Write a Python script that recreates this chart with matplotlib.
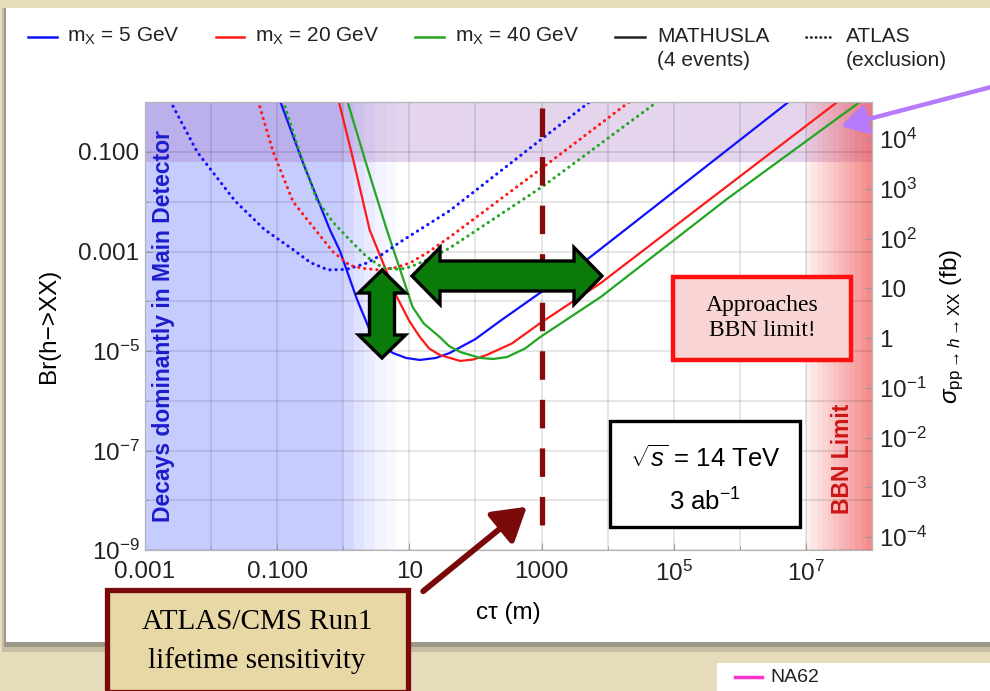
import numpy as np
import matplotlib.pyplot as plt
from matplotlib.patches import Rectangle, Polygon, FancyArrowPatch
from matplotlib.ticker import FixedLocator, FixedFormatter, NullFormatter

plt.rcParams['font.family'] = ['Liberation Sans', 'DejaVu Sans']
plt.rcParams['mathtext.fontset'] = 'custom'
plt.rcParams['mathtext.rm'] = 'Liberation Sans'
plt.rcParams['mathtext.it'] = 'Liberation Sans:italic'
plt.rcParams['mathtext.bf'] = 'Liberation Sans:bold'

W, H = 990, 691

# curves: log10(c tau / m), log10(Br(h->XX))
# MATHUSLA (4 events), solid
m5_x = [-0.96, -0.60, -0.20, -0.05, 0.21, 0.40, 0.55, 0.75, 0.95, 1.16, 1.40, 1.61, 2.00, 2.37, 2.99, 3.70, 5.00, 6.77]
m5_y = [0.04, -1.25, -2.57, -2.99, -3.97, -4.58, -4.85, -5.04, -5.14, -5.18, -5.14, -5.04, -4.76, -4.40, -3.82, -3.15, -1.80, 0.04]
m20_x = [-0.07, 0.15, 0.40, 0.81, 1.00, 1.16, 1.30, 1.46, 1.77, 1.97, 2.17, 2.55, 2.98, 3.90, 5.50, 7.47]
m20_y = [0.03, -1.15, -2.57, -3.91, -4.40, -4.72, -4.95, -5.08, -5.20, -5.17, -5.08, -4.85, -4.44, -3.63, -2.00, 0.0]
m40_x = [0.06, 0.35, 0.66, 1.05, 1.22, 1.46, 1.60, 1.77, 2.07, 2.27, 2.48, 2.75, 2.98, 3.90, 5.80, 7.81]
m40_y = [0.03, -1.25, -2.57, -4.12, -4.45, -4.72, -4.90, -5.02, -5.14, -5.16, -5.12, -4.95, -4.72, -3.91, -1.95, 0.0]

# ATLAS exclusion, dotted
a5_x = [-2.62, -2.21, -1.64, -1.20, -0.73, -0.50, -0.23, 0.05, 0.36, 0.60, 0.86, 1.61, 3.02, 3.72]
a5_y = [0.03, -1.00, -1.98, -2.55, -2.99, -3.22, -3.37, -3.36, -3.23, -3.05, -2.81, -2.18, -0.72, 0.0]
a20_x = [-1.29, -1.06, -0.76, -0.16, 0.10, 0.30, 0.55, 0.80, 1.01, 1.30, 1.61, 3.02, 4.32]
a20_y = [0.03, -1.00, -2.00, -3.00, -3.28, -3.34, -3.37, -3.32, -3.23, -3.00, -2.71, -1.31, 0.0]
a40_x = [-0.91, -0.65, -0.40, -0.15, 0.10, 0.35, 0.60, 0.85, 1.01, 1.30, 1.61, 3.02, 4.74]
a40_y = [0.03, -1.05, -1.96, -2.42, -2.77, -3.10, -3.33, -3.36, -3.31, -3.15, -2.93, -1.69, 0.0]

curves = [
    (m5_x, m5_y, '#1010ff', '-'), (m20_x, m20_y, '#ff1a1a', '-'), (m40_x, m40_y, '#22a622', '-'),
    (a5_x, a5_y, '#1010ff', ':'), (a20_x, a20_y, '#ff1a1a', ':'), (a40_x, a40_y, '#22a622', ':'),
]

legend_labels = ['m$_{\\mathrm{X}}$ = 5 GeV', 'm$_{\\mathrm{X}}$ = 20 GeV', 'm$_{\\mathrm{X}}$ = 40 GeV']
legend_colors = ['#1010ff', '#ff1a1a', '#22a622']

main_detector_max = 1.0        # m, solid blue region ends here
bbn_min, bbn_max = 1e7, 1e8    # m
purple_band_min = 10 ** -1.2   # Br
run1_ctau = 1000.0             # m
sigma_h = 10 ** 4.74           # fb, Br -> sigma(pp->h->XX)

xticks = [1e-3, 1e-1, 1e1, 1e3, 1e5, 1e7]
xticklabels = ['0.001', '0.100', '10', '1000', '$\\mathregular{10^{5}}$', '$\\mathregular{10^{7}}$']
yticks = [1e-9, 1e-7, 1e-5, 1e-3, 1e-1]
yticklabels = ['$\\mathregular{10^{-9}}$', '$\\mathregular{10^{-7}}$', '$\\mathregular{10^{-5}}$', '0.001', '0.100']
rticks = [1e-4, 1e-3, 1e-2, 1e-1, 1, 10, 1e2, 1e3, 1e4]
rticklabels = ['$\\mathregular{10^{-4}}$', '$\\mathregular{10^{-3}}$', '$\\mathregular{10^{-2}}$',
               '$\\mathregular{10^{-1}}$', '1', '10', '$\\mathregular{10^{2}}$',
               '$\\mathregular{10^{3}}$', '$\\mathregular{10^{4}}$']


def fx(x):
    return x / W


def fy(y):
    return 1 - y / H


def pts(p):
    return [(fx(a), fy(b)) for a, b in p]


def double_arrow(x0, y0, x1, y1, shaft, head, hlen):
    p0, p1 = np.array([x0, y0], float), np.array([x1, y1], float)
    u = (p1 - p0) / np.hypot(*(p1 - p0))
    n = np.array([-u[1], u[0]])
    poly = [p0, p0 + u * hlen + n * head / 2, p0 + u * hlen + n * shaft / 2,
            p1 - u * hlen + n * shaft / 2, p1 - u * hlen + n * head / 2, p1,
            p1 - u * hlen - n * head / 2, p1 - u * hlen - n * shaft / 2,
            p0 + u * hlen - n * shaft / 2, p0 + u * hlen - n * head / 2]
    return Polygon(pts(poly), closed=True, transform=fig.transFigure,
                   facecolor='#0a7a0a', edgecolor='black', lw=2.4, joinstyle='miter', zorder=5)


fig = plt.figure(figsize=(W / 100, H / 100), dpi=100)
fig.patch.set_facecolor('#e6dcbb')

# slide panel with shadow
fig.add_artist(Rectangle((fx(2), fy(652)), fx(990), 644 / H, transform=fig.transFigure,
                         facecolor='#8a877a', edgecolor='none', alpha=0.35, zorder=-3))
fig.add_artist(Rectangle((fx(4), fy(647)), fx(990), 639 / H, transform=fig.transFigure,
                         facecolor='#77746a', edgecolor='none', alpha=0.5, zorder=-3))
fig.add_artist(Rectangle((fx(6), fy(642)), fx(990), 634 / H, transform=fig.transFigure,
                         facecolor='white', edgecolor='none', zorder=-2))

ax = fig.add_axes([fx(145), fy(550), (872 - 145) / W, (550 - 102.25) / H])
ax.set_xscale('log')
ax.set_yscale('log')
ax.set_xlim(1e-3, 1e8)
ax.set_ylim(1e-9, 1)

# shaded regions
ax.axvspan(1e-3, main_detector_max, color='#3344ff', alpha=0.27, lw=0, zorder=0.5)
for i, a in enumerate([0.21, 0.15, 0.10, 0.06, 0.03]):
    ax.axvspan(main_detector_max * 10 ** (0.16 * i), main_detector_max * 10 ** (0.16 * (i + 1)),
               color='#3344ff', alpha=a, lw=0, zorder=0.5)
ax.axhspan(purple_band_min, 1, color='#9b59b6', alpha=0.25, lw=0, zorder=0.6)
nb = 12
for i in range(nb):
    lo = bbn_min * (bbn_max / bbn_min) ** (i / nb)
    hi = bbn_min * (bbn_max / bbn_min) ** ((i + 1) / nb)
    ax.axvspan(lo, hi, color='#ee3333', alpha=0.04 + 0.52 * (i + 1) / nb, lw=0, zorder=0.7)

ax.xaxis.set_major_locator(FixedLocator(xticks))
ax.xaxis.set_major_formatter(FixedFormatter(xticklabels))
ax.xaxis.set_minor_locator(FixedLocator([1e-2, 1, 1e2, 1e4, 1e6]))
ax.xaxis.set_minor_formatter(NullFormatter())
ax.yaxis.set_major_locator(FixedLocator(yticks))
ax.yaxis.set_major_formatter(FixedFormatter(yticklabels))
ax.yaxis.set_minor_locator(FixedLocator([1e-8, 1e-6, 1e-4, 1e-2]))
ax.yaxis.set_minor_formatter(NullFormatter())
ax.grid(True, which='both', color='black', alpha=0.11, lw=1.3)
ax.tick_params(which='both', direction='in', color='#999999', labelsize=17.5, labelcolor='#222222')
ax.tick_params(which='major', length=5)
ax.tick_params(which='minor', length=3)
ax.tick_params(axis='x', pad=8)
ax.tick_params(axis='y', pad=4)
for s in ax.spines.values():
    s.set_color('#b5b5b5')

for xs, ys, c, ls in curves:
    x = 10.0 ** np.array(xs)
    y = 10.0 ** np.array(ys)
    if ls == '-':
        ax.plot(x, y, color=c, lw=1.6, zorder=3)
    else:
        ax.plot(x, y, color=c, lw=2.2, linestyle=(0, (0.1, 1.9)), dash_capstyle='round', zorder=3)

ax.plot([run1_ctau, run1_ctau], [10 ** -0.12, 10 ** -8.76], color='#850b0b', lw=3.8,
        linestyle=(0, (5.4, 3.8)), zorder=4)

ax.set_xlabel('c\u03c4 (m)', fontsize=17.5, labelpad=11)
ax.set_ylabel('Br(h\u2212>XX)', fontsize=17.5, labelpad=13)

ax.text(0.025, 0.5, 'Decays dominantly in Main Detector', transform=ax.transAxes, rotation=90,
        ha='center', va='center', color='#1c1ccc', fontsize=16.5, fontweight='bold', zorder=6)
ax.text(fx(842.5), fy(459), 'BBN Limit', transform=fig.transFigure, rotation=90,
        ha='center', va='center', color='#cc1515', fontsize=16.5, fontweight='bold', zorder=6)

ax2 = ax.twinx()
ax2.set_yscale('log')
ax2.set_ylim(1e-9 * sigma_h, 1 * sigma_h)
ax2.yaxis.set_major_locator(FixedLocator(rticks))
ax2.yaxis.set_major_formatter(FixedFormatter(rticklabels))
ax2.yaxis.set_minor_formatter(NullFormatter())
ax2.yaxis.set_minor_locator(FixedLocator([]))
ax2.tick_params(direction='in', color='#999999', length=5, labelsize=17.5, labelcolor='#222222', pad=5)
for s in ax2.spines.values():
    s.set_color('#b5b5b5')
ax2.set_ylabel('$\\sigma_{\\mathrm{pp}\\rightarrow h\\rightarrow \\mathrm{XX}}$ (fb)', fontsize=17.5, labelpad=8)

# legend across the top
leg_x = [(28, 57, 67), (216, 244, 255), (415, 444, 455)]
for (x0, x1, xt), lab, c in zip(leg_x, legend_labels, legend_colors):
    fig.add_artist(plt.Line2D([fx(x0), fx(x1)], [fy(37), fy(37)], color=c, lw=1.8,
                              transform=fig.transFigure))
    fig.text(fx(xt), fy(36), lab, fontsize=15, va='center', ha='left', color='#222222')
fig.add_artist(plt.Line2D([fx(615), fx(645)], [fy(37), fy(37)], color='#222222', lw=1.8,
                          transform=fig.transFigure))
fig.text(fx(657), fy(36), 'MATHUSLA', fontsize=15, va='center', ha='left', color='#222222')
fig.text(fx(657), fy(60), '(4 events)', fontsize=15, va='center', ha='left', color='#222222')
fig.add_artist(plt.Line2D([fx(806), fx(833)], [fy(37), fy(37)], color='#222222', lw=2.0,
                          linestyle=(0, (0.1, 1.6)), dash_capstyle='round', transform=fig.transFigure))
fig.text(fx(846), fy(36), 'ATLAS', fontsize=15, va='center', ha='left', color='#222222')
fig.text(fx(846), fy(60), '(exclusion)', fontsize=15, va='center', ha='left', color='#222222')

# green double arrows
fig.add_artist(double_arrow(412, 276, 602, 276, 30, 57, 28))
fig.add_artist(double_arrow(382, 270, 382, 358, 25, 47, 23))

# text boxes
fig.add_artist(Rectangle((fx(673), fy(360)), (851 - 673) / W, (360 - 277) / H, transform=fig.transFigure,
                         facecolor='#f9d4d4', edgecolor='#ff1010', lw=3.2, zorder=5))
fig.text(fx(762), fy(318), 'Approaches\nBBN limit!', fontsize=17, family='Liberation Serif',
         ha='center', va='center', linespacing=1.25, zorder=6)

fig.add_artist(Rectangle((fx(610), fy(527)), (800 - 610) / W, (527 - 421) / H, transform=fig.transFigure,
                         facecolor='white', edgecolor='black', lw=2.4, zorder=5))
fig.text(fx(705), fy(459), '$\\sqrt{s}$ = 14 TeV', fontsize=18.5, ha='center', va='center', zorder=6)
fig.text(fx(705), fy(502), '3 ab$^{-1}$', fontsize=18.5, ha='center', va='center', zorder=6)

fig.add_artist(Rectangle((fx(107), fy(692)), (408 - 107) / W, (692 - 590) / H, transform=fig.transFigure,
                         facecolor='#e8d8a6', edgecolor='#7a0a0a', lw=3.8, zorder=5))
fig.text(fx(257), fy(622), 'ATLAS/CMS Run1', fontsize=21, family='Liberation Serif',
         ha='center', va='center', zorder=6)
fig.text(fx(257), fy(661), 'lifetime sensitivity', fontsize=21, family='Liberation Serif',
         ha='center', va='center', zorder=6)

# arrows pointing into the plot
fig.add_artist(FancyArrowPatch((fx(421), fy(593)), (fx(529), fy(505)), transform=fig.transFigure,
                               arrowstyle='-|>,head_length=0.9,head_width=0.55', mutation_scale=22,
                               color='#7a0a0a', lw=4.2, zorder=6))
fig.add_artist(FancyArrowPatch((fx(995), fy(86)), (fx(838), fy(127)), transform=fig.transFigure,
                               arrowstyle='-|>,head_length=0.8,head_width=0.45', mutation_scale=20,
                               color='#b57bfb', lw=3.2, zorder=6))

# next legend fragment at the bottom right of the slide
fig.add_artist(Rectangle((fx(717), 0), (990 - 717) / W, (691 - 663) / H, transform=fig.transFigure,
                         facecolor='white', edgecolor='none', zorder=4))
fig.add_artist(plt.Line2D([fx(735), fx(762)], [fy(677), fy(677)], color='#ff33cc', lw=2.5,
                          transform=fig.transFigure, zorder=5))
fig.text(fx(770), fy(677), 'NA62', fontsize=14, va='center', ha='left', color='#222222', zorder=6)

fig.savefig('out.png', dpi=100, facecolor=fig.get_facecolor())
